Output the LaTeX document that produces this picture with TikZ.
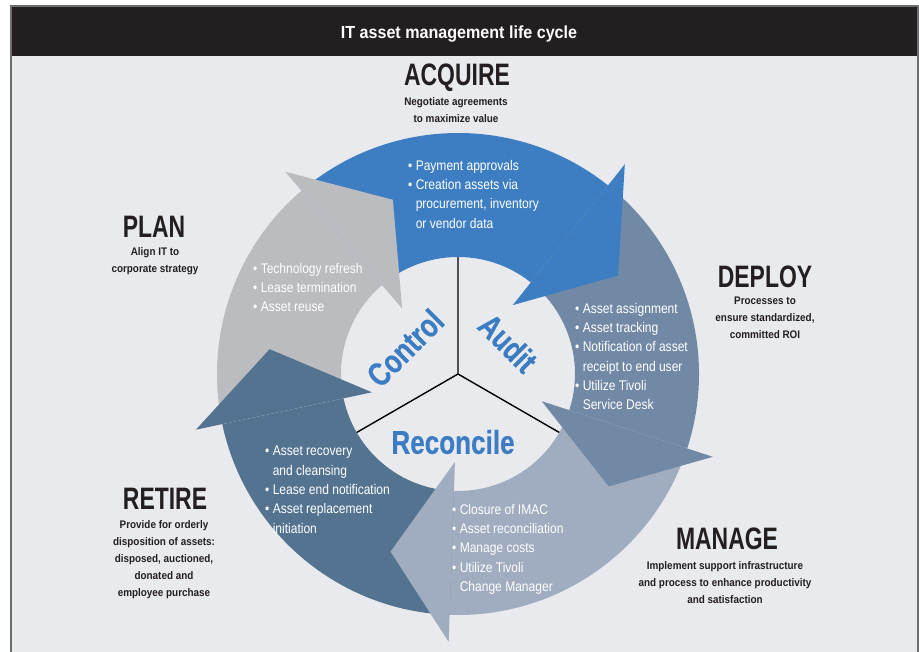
\documentclass[tikz,border=0pt]{standalone}
\usepackage{fontspec}
\setmainfont{Liberation Sans}
\newfontfamily\hdfont{Liberation Sans}[FakeStretch=0.74]
\newfontfamily\sbfont{Liberation Sans}[FakeStretch=0.9]
\newfontfamily\btfont{Liberation Sans}[FakeStretch=0.86]
\newfontfamily\ctfont{Liberation Sans}[FakeStretch=0.79, FakeBold=0.5]
\newfontfamily\ttlfont{Liberation Sans}[FakeStretch=0.92]
\definecolor{acqc}{HTML}{3D7EC2}
\definecolor{depc}{HTML}{7289A6}
\definecolor{manc}{HTML}{A0ACBF}
\definecolor{retc}{HTML}{537390}
\definecolor{plac}{HTML}{BBBCC0}
\definecolor{bgc}{HTML}{E9EAEE}
\definecolor{barc}{HTML}{231F20}
\definecolor{framec}{HTML}{6D6E71}
\definecolor{inkc}{HTML}{231F20}
\definecolor{lblc}{HTML}{3B7CC2}
\begin{document}
\begin{tikzpicture}[x=1pt,y=1pt,
  titletext/.style={font=\ttlfont\bfseries\fontsize{17.5}{17.5}\selectfont, text=white, inner sep=0},
  heading/.style={font=\hdfont\bfseries\fontsize{31}{31}\selectfont, text=inkc, inner sep=0},
  subtext/.style={font=\sbfont\bfseries\fontsize{11}{17}\selectfont, text=inkc, inner sep=0, align=center, anchor=north},
  bullets/.style={font=\btfont\fontsize{14}{19.3}\selectfont, text=white, inner sep=0, align=left, anchor=north west},
  centerlbl/.style={font=\ctfont\bfseries\fontsize{33}{33}\selectfont, text=lblc, inner sep=0},
  spoke/.style={draw=black, line width=1.4pt}
]
\useasboundingbox (0,0) rectangle (919,652);
\fill[white] (0,0) rectangle (919,652);
\fill[bgc] (11,-10) rectangle (918,646);
\fill[barc] (11,596) rectangle (918,646);
\draw[framec, line width=2pt] (11,-10) -- (11,646) -- (918,646) -- (918,-10);
\node[titletext] (title) at (459,618) {IT asset management life cycle};

\begin{scope}[shift={(458,278)}]
  \coordinate (ctr) at (0,0);
  \coordinate (sp1) at (90:118pt);
  \coordinate (sp2) at (210:118pt);
  \coordinate (sp3) at (330:118pt);
  \draw[spoke] (sp1) -- (ctr) -- (sp2);
  \draw[spoke] (ctr) -- (sp3);
  % bodies
  \fill[acqc] (130.5:241pt) arc[start angle=130.5, end angle=51.5, radius=241pt] -- (51.5:117pt) arc[start angle=51.5, end angle=130.5, radius=117pt] -- cycle;
  \fill[depc] (51.5:241pt) arc[start angle=51.5, end angle=-18, radius=241pt] -- (-18:117pt) arc[start angle=-18, end angle=51.5, radius=117pt] -- cycle;
  \fill[manc] (-18:241pt) arc[start angle=-18, end angle=-92, radius=241pt] -- (-92:117pt) arc[start angle=-92, end angle=-18, radius=117pt] -- cycle;
  \fill[retc] (-92:241pt) arc[start angle=-92, end angle=-168, radius=241pt] -- (-168:117pt) arc[start angle=-168, end angle=-92, radius=117pt] -- cycle;
  \fill[plac] (-168:241pt) arc[start angle=-168, end angle=-229.5, radius=241pt] -- (-229.5:117pt) arc[start angle=-229.5, end angle=-168, radius=117pt] -- cycle;
  % heads
  \fill[acqc] (51.5:268pt) -- (31.6:188pt) -- (51.5:88pt) -- cycle;
  \fill[depc] (-18:268pt) -- (-36.7:188pt) -- (-18:88pt) -- cycle;
  \fill[manc] (-92:268pt) -- (-110.8:190pt) -- (-92:88pt) -- cycle;
  \fill[retc] (-168:268pt) -- (-187.5:190pt) -- (-168:88pt) -- cycle;
  \fill[plac] (-229.5:266pt) -- (-249.5:186pt) -- (-229.5:86pt) -- cycle;
\end{scope}

% center labels
\node[centerlbl, rotate=45] (control) at (405,304) {Control};
\node[centerlbl, rotate=-45] (audit) at (508,309) {Audit};
\node[centerlbl] (reconcile) at (453,210) {Reconcile};

% bullet texts
\node[bullets] (acqlist) at (408,492) {• Payment approvals\\• Creation assets via\\\phantom{• }procurement, inventory\\\phantom{• }or vendor data};
\node[bullets] (plalist) at (253,389) {• Technology refresh\\• Lease termination\\• Asset reuse};
\node[bullets] (deplist) at (575,349) {• Asset assignment\\• Asset tracking\\• Notification of asset\\\phantom{• }receipt to end user\\• Utilize Tivoli\\\phantom{• }Service Desk};
\node[bullets] (retlist) at (265,206) {• Asset recovery\\\phantom{• }and cleansing\\• Lease end notification\\• Asset replacement\\\phantom{• }initiation};
\node[bullets] (manlist) at (452,148) {• Closure of IMAC\\• Asset reconciliation\\• Manage costs\\• Utilize Tivoli\\\phantom{• }Change Manager};

% headings
\node[heading] (acquire) at (457,574) {ACQUIRE};
\node[subtext] (acqsub) at (456,555) {Negotiate agreements\\to maximize value};
\node[heading] (plan) at (154,425) {PLAN};
\node[subtext] (plasub) at (155,405) {Align IT to\\corporate strategy};
\node[heading] (deploy) at (765,375) {DEPLOY};
\node[subtext] (depsub) at (765,355) {Processes to\\ensure standardized,\\committed ROI};
\node[heading] (retire) at (165,153) {RETIRE};
\node[subtext] (retsub) at (164,132) {Provide for orderly\\disposition of assets:\\disposed, auctioned,\\donated and\\employee purchase};
\node[heading] (manage) at (727,113) {MANAGE};
\node[subtext] (mansub) at (725,91) {Implement support infrastructure\\and process to enhance productivity\\and satisfaction};
\end{tikzpicture}
\end{document}
